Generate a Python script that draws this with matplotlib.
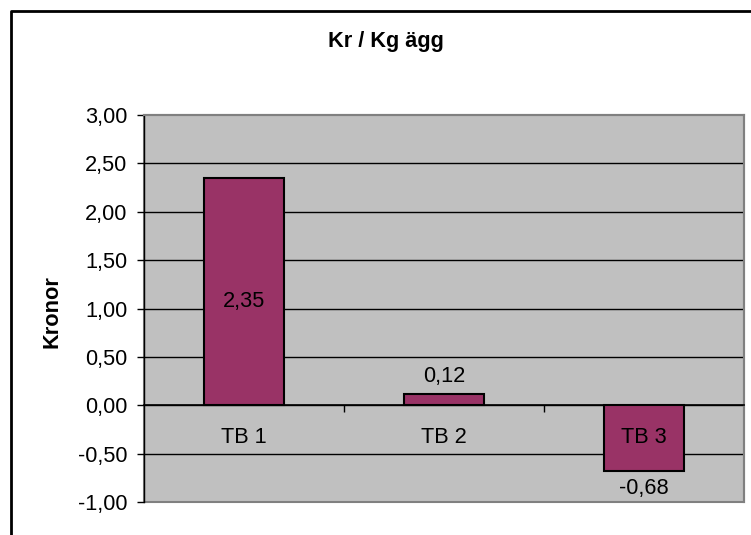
import numpy as np
import matplotlib
matplotlib.use('Agg')
import matplotlib.pyplot as plt
from matplotlib.lines import Line2D
from matplotlib.patches import Rectangle
from matplotlib.ticker import FuncFormatter

# Data
categories = ['TB 1', 'TB 2', 'TB 3']
values = [2.35, 0.12, -0.68]
y_ticks = [-1.0, -0.5, 0.0, 0.5, 1.0, 1.5, 2.0, 2.5, 3.0]

plt.rcParams['font.family'] = ['Liberation Sans', 'DejaVu Sans']
FS = 15.7

def comma(v, pos=None):
    return f'{v:.2f}'.replace('.', ',')

fig = plt.figure(figsize=(7.51, 5.35), dpi=100)
ax = fig.add_axes([144/751, 1 - 502/535, 600/751, 387/535])
ax.set_facecolor('#C0C0C0')

x = np.arange(len(categories))
ax.bar(x, values, width=0.4, color='#993366', edgecolor='black', linewidth=1.5, zorder=3)

# gridlines
for t in y_ticks[1:-1]:
    ax.axhline(t, color='black', linewidth=1, zorder=1)

ax.set_xlim(-0.5, 2.5)
ax.set_ylim(-1, 3)
ax.set_yticks(y_ticks)
ax.yaxis.set_major_formatter(FuncFormatter(comma))
ax.tick_params(axis='y', labelsize=FS, length=5, width=1, direction='out', pad=7)

# x axis on zero line, ticks between categories
ax.spines['bottom'].set_position(('data', 0))
ax.spines['bottom'].set_linewidth(1.2)
ax.set_xticks([0.5, 1.5])
ax.set_xticklabels([])
ax.tick_params(axis='x', length=5, width=1, direction='out')
for s in ['top', 'right']:
    ax.spines[s].set_color('#808080')
    ax.spines[s].set_linewidth(1.5)
ax.spines['left'].set_linewidth(1)
ax.add_patch(Rectangle((0, 0), 1, 1, transform=ax.transAxes, fill=False,
                       edgecolor='#808080', linewidth=1.5, zorder=0.5, clip_on=False))

# category labels under zero line
for i, c in enumerate(categories):
    ax.annotate(c, (i, 0), xytext=(0, -23.5), textcoords='offset points',
                ha='center', va='center', fontsize=FS)

# data labels
for i, v in enumerate(values):
    if v > 1:
        ax.annotate(comma(v), (i, v / 2), xytext=(0, -7), textcoords='offset points',
                    ha='center', va='center', fontsize=FS, zorder=4)
    elif v >= 0:
        ax.annotate(comma(v), (i, v), xytext=(0, 12), textcoords='offset points',
                    ha='center', va='center', fontsize=FS, zorder=4)
    else:
        ax.annotate(comma(v), (i, v), xytext=(0, -12.5), textcoords='offset points',
                    ha='center', va='center', fontsize=FS, zorder=4)

fig.text(386/751, 1 - 41/535, 'Kr / Kg ägg', ha='center', va='center',
         fontsize=FS, fontweight='bold')
fig.text(52/751, 1 - 312/535, 'Kronor', ha='center', va='center',
         rotation=90, fontsize=FS, fontweight='bold')

# chart area border (left and top edges visible)
bx, by = 10.5/751, 1 - 11/535
fig.add_artist(Line2D([bx, bx, 1.05], [-0.05, by, by], transform=fig.transFigure,
                      color='black', linewidth=2))

fig.savefig('out.png', dpi=100, facecolor='white')
